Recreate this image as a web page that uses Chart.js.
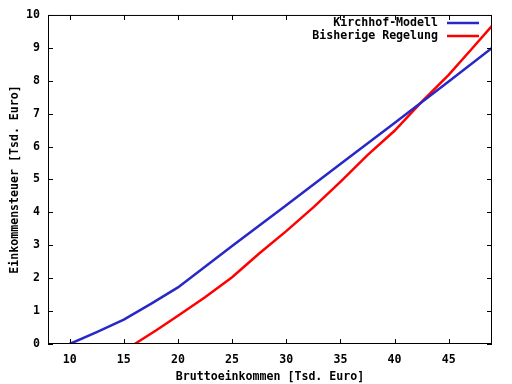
<!DOCTYPE html>
<html>
<head>
<meta charset="utf-8">
<script src="https://cdn.jsdelivr.net/npm/chart.js@4.4.0/dist/chart.umd.min.js"></script>
<style>
  html, body { margin: 0; padding: 0; background: #fff; }
  #wrap { width: 512px; height: 384px; }
</style>
</head>
<body>
<div id="wrap"><canvas id="chart" width="512" height="384"></canvas></div>
<script>
// Einkommen in Tsd. Euro
const kirchhofX = [10, 12.5, 15, 17.5, 20, 25, 30, 35, 40, 45, 49];
const kirchhofY = [0, 0.36, 0.74, 1.22, 1.72, 2.98, 4.22, 5.47, 6.72, 7.98, 9.0];
const bisherX = [16, 18, 20, 22.5, 25, 27.5, 30, 32.5, 35, 37.5, 40, 42.5, 45, 47, 49];
const bisherY = [0, 0.42, 0.86, 1.42, 2.03, 2.75, 3.43, 4.15, 4.93, 5.74, 6.48, 7.36, 8.18, 8.92, 9.67];
const xTicks = [10, 15, 20, 25, 30, 35, 40, 45];
const yTicks = [0, 1, 2, 3, 4, 5, 6, 7, 8, 9, 10];
const seriesNames = ['Kirchhof-Modell', 'Bisherige Regelung'];
const seriesColors = ['rgb(40,40,200)', 'rgb(255,0,0)'];

const fontFam = '"DejaVu Sans Mono", "Liberation Mono", monospace';

function toPoints(xs, ys) {
  return xs.map((x, i) => ({ x: x, y: ys[i] }));
}

// gnuplot-like frame with inward ticks on all four sides
const framePlugin = {
  id: 'frame',
  afterDraw(chart) {
    const ctx = chart.ctx;
    const a = chart.chartArea;
    const xs = chart.scales.x, ys = chart.scales.y;
    ctx.save();
    ctx.strokeStyle = '#000';
    ctx.lineWidth = 1;
    ctx.strokeRect(a.left + 0.5, a.top + 0.5, a.right - a.left - 1, a.bottom - a.top - 1);
    ctx.beginPath();
    xTicks.forEach(v => {
      const px = Math.round(xs.getPixelForValue(v)) + 0.5;
      ctx.moveTo(px, a.bottom); ctx.lineTo(px, a.bottom - 5);
      ctx.moveTo(px, a.top); ctx.lineTo(px, a.top + 5);
    });
    yTicks.forEach(v => {
      const py = Math.round(ys.getPixelForValue(v)) + 0.5;
      ctx.moveTo(a.left, py); ctx.lineTo(a.left + 5, py);
      ctx.moveTo(a.right, py); ctx.lineTo(a.right - 5, py);
    });
    ctx.stroke();

    // legend: text right-aligned, line sample to its right
    ctx.font = 'bold 11.6px ' + fontFam;
    ctx.textAlign = 'right';
    ctx.textBaseline = 'middle';
    seriesNames.forEach((name, i) => {
      const y = 23 + i * 13;
      ctx.fillStyle = '#000';
      ctx.fillText(name, 438, y);
      ctx.strokeStyle = seriesColors[i];
      ctx.lineWidth = 2.5;
      ctx.beginPath();
      ctx.moveTo(447, y); ctx.lineTo(479, y);
      ctx.stroke();
    });
    ctx.restore();
  }
};

new Chart(document.getElementById('chart'), {
  type: 'scatter',
  data: {
    datasets: [
      {
        label: seriesNames[0],
        data: toPoints(kirchhofX, kirchhofY),
        showLine: true,
        borderColor: seriesColors[0],
        borderWidth: 2.5,
        pointRadius: 0,
        tension: 0
      },
      {
        label: seriesNames[1],
        data: toPoints(bisherX, bisherY),
        showLine: true,
        borderColor: seriesColors[1],
        borderWidth: 2.5,
        pointRadius: 0,
        tension: 0
      }
    ]
  },
  options: {
    responsive: false,
    animation: false,
    layout: { padding: { top: 13, right: 20, left: 0, bottom: 0 } },
    plugins: {
      legend: { display: false },
      tooltip: { enabled: false }
    },
    scales: {
      x: {
        type: 'linear',
        min: 8,
        max: 49,
        afterBuildTicks(scale) { scale.ticks = xTicks.map(v => ({ value: v })); },
        afterFit(scale) { scale.height = 40; },
        grid: { display: false, drawTicks: false },
        border: { display: false },
        ticks: {
          padding: 9,
          color: '#000',
          maxRotation: 0,
          font: { family: fontFam, size: 11.6, weight: 'bold' }
        },
        title: {
          display: true,
          text: 'Bruttoeinkommen [Tsd. Euro]',
          color: '#000',
          padding: { top: 4, bottom: 0 },
          font: { family: fontFam, size: 11.6, weight: 'bold' }
        }
      },
      y: {
        type: 'linear',
        min: 0,
        max: 10,
        afterBuildTicks(scale) { scale.ticks = yTicks.map(v => ({ value: v })); },
        afterFit(scale) { scale.width = 48; },
        grid: { display: false, drawTicks: false },
        border: { display: false },
        ticks: {
          padding: 8,
          color: '#000',
          font: { family: fontFam, size: 11.6, weight: 'bold' }
        },
        title: {
          display: true,
          text: 'Einkommensteuer [Tsd. Euro]',
          color: '#000',
          padding: { top: 8, bottom: 0 },
          font: { family: fontFam, size: 11.6, weight: 'bold' }
        }
      }
    }
  },
  plugins: [framePlugin]
});
</script>
</body>
</html>
